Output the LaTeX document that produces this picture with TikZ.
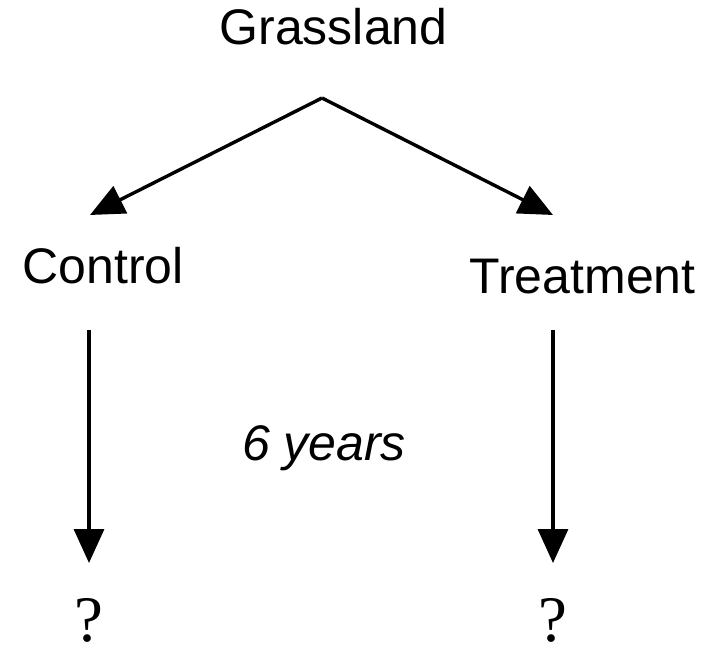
\documentclass[tikz,border=0pt]{standalone}
\usepackage{fontspec}
\setmainfont{Liberation Sans}
\newfontfamily\qfont{Liberation Serif}
\usetikzlibrary{arrows.meta}
\tikzset{
 lbl/.style={anchor=base,inner sep=0pt,font=\fontsize{50}{60}\selectfont},
 qmark/.style={anchor=base,inner sep=0pt,font=\qfont\fontsize{65}{70}\selectfont},
 arr/.style={-{Triangle[length=34pt,width=30pt]},line width=3.4pt}
}
\begin{document}
\begin{tikzpicture}[x=1pt,y=-1pt]
 \useasboundingbox (0,0) rectangle (705,645);
 % labels
 \node[lbl] (grass) at (333.5,44) {Grassland};
 \node[lbl] (ctrl) at (103,283) {Control};
 \node[lbl] (treat) at (582.5,293) {Treatment};
 \node[lbl,font=\fontsize{50}{60}\selectfont\itshape] (years) at (324,460) {6 years};
 \node[qmark] (qctrl) at (88.5,641) {?};
 \node[qmark] (qtreat) at (552.5,641) {?};
 % arrows
 \coordinate (fork) at (322,98);
 \coordinate (ctrltop) at (90,215);
 \coordinate (treattop) at (553,215);
 \coordinate (ctrlstart) at (89,330);
 \coordinate (ctrlend) at (89,563);
 \coordinate (treatstart) at (553,330);
 \coordinate (treatend) at (553,563);
 \draw[arr] (fork) -- (ctrltop);
 \draw[arr] (fork) -- (treattop);
 \draw[arr] (ctrlstart) -- (ctrlend);
 \draw[arr] (treatstart) -- (treatend);
\end{tikzpicture}
\end{document}
